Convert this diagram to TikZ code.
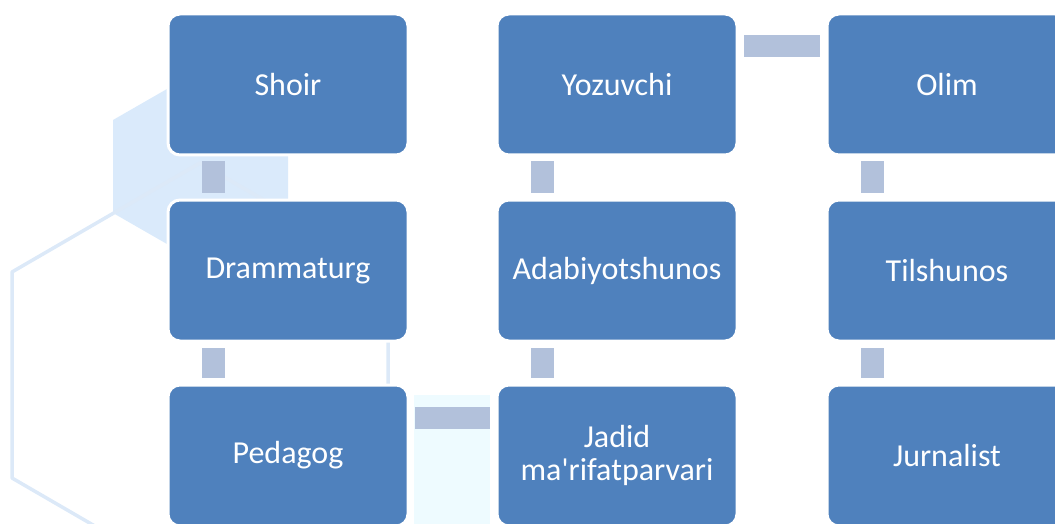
\documentclass[tikz,border=0pt]{standalone}
\usepackage{fontspec}
\newfontfamily\boxfont{Carlito}
\usetikzlibrary{calc}
\definecolor{boxblue}{HTML}{4F81BD}
\definecolor{connc}{HTML}{B2C1DB}
\definecolor{hexfill}{HTML}{DAEAFB}
\definecolor{hexline}{HTML}{DCE9F8}
\definecolor{cyanbg}{HTML}{EEFBFF}
\begin{document}
\begin{tikzpicture}[x=1pt,y=-1pt,
  stepbox/.style={draw=white, line width=3pt, fill=boxblue, rounded corners=12pt,
    minimum width=240pt, minimum height=141pt, text=white,
    font=\boxfont\fontsize{32}{33}\selectfont, align=center, inner sep=0pt},
  conn/.style={fill=connc},
  hexedge/.style={draw=hexline, line width=3.5pt, line join=round}]
\useasboundingbox (0,0) rectangle (1055,524);
\clip (0,0) rectangle (1055,524);
% background decoration
\fill[hexfill] (113,120) -- (200,70) -- (288,120) -- (288,213) -- (200,263) -- (113,213) -- cycle;
\draw[hexedge] (12,272) -- (200,163) -- (388,272) -- (388,478) -- (200,587) -- (12,478) -- cycle;
\fill[cyanbg] (414,395) rectangle (490,524);
% boxes
\node[stepbox] (shoir) at (288,84.5) {Shoir};
\node[stepbox] (dram) at (288,270.5) {Drammaturg};
\node[stepbox] (ped) at (288,455.5) {Pedagog};
\node[stepbox] (jadid) at (617,455.5) {Jadid\\ma'rifatparvari};
\node[stepbox] (adab) at (617,270.5) {Adabiyotshunos};
\node[stepbox] (yoz) at (617,84.5) {Yozuvchi};
\node[stepbox] (olim) at (947,84.5) {Olim};
\node[stepbox] (til) at (947,270.5) {Tilshunos};
\node[stepbox] (jur) at (947,455.5) {Jurnalist};
% connectors
\fill[conn] ($(shoir.south west)+(35,5)$) rectangle ($(dram.north west)+(58,-6)$);
\fill[conn] ($(dram.south west)+(35,5)$) rectangle ($(ped.north west)+(58,-6)$);
\fill[conn] ($(ped.north east)+(5,23)$) rectangle ($(jadid.north west)+(-6,45)$);
\fill[conn] ($(jadid.north west)+(35,-6)$) rectangle ($(adab.south west)+(58,5)$);
\fill[conn] ($(adab.north west)+(35,-6)$) rectangle ($(yoz.south west)+(58,5)$);
\fill[conn] ($(yoz.north east)+(5,23)$) rectangle ($(olim.north west)+(-6,45)$);
\fill[conn] ($(olim.south west)+(35,5)$) rectangle ($(til.north west)+(58,-6)$);
\fill[conn] ($(til.south west)+(35,5)$) rectangle ($(jur.north west)+(58,-6)$);
\end{tikzpicture}
\end{document}
